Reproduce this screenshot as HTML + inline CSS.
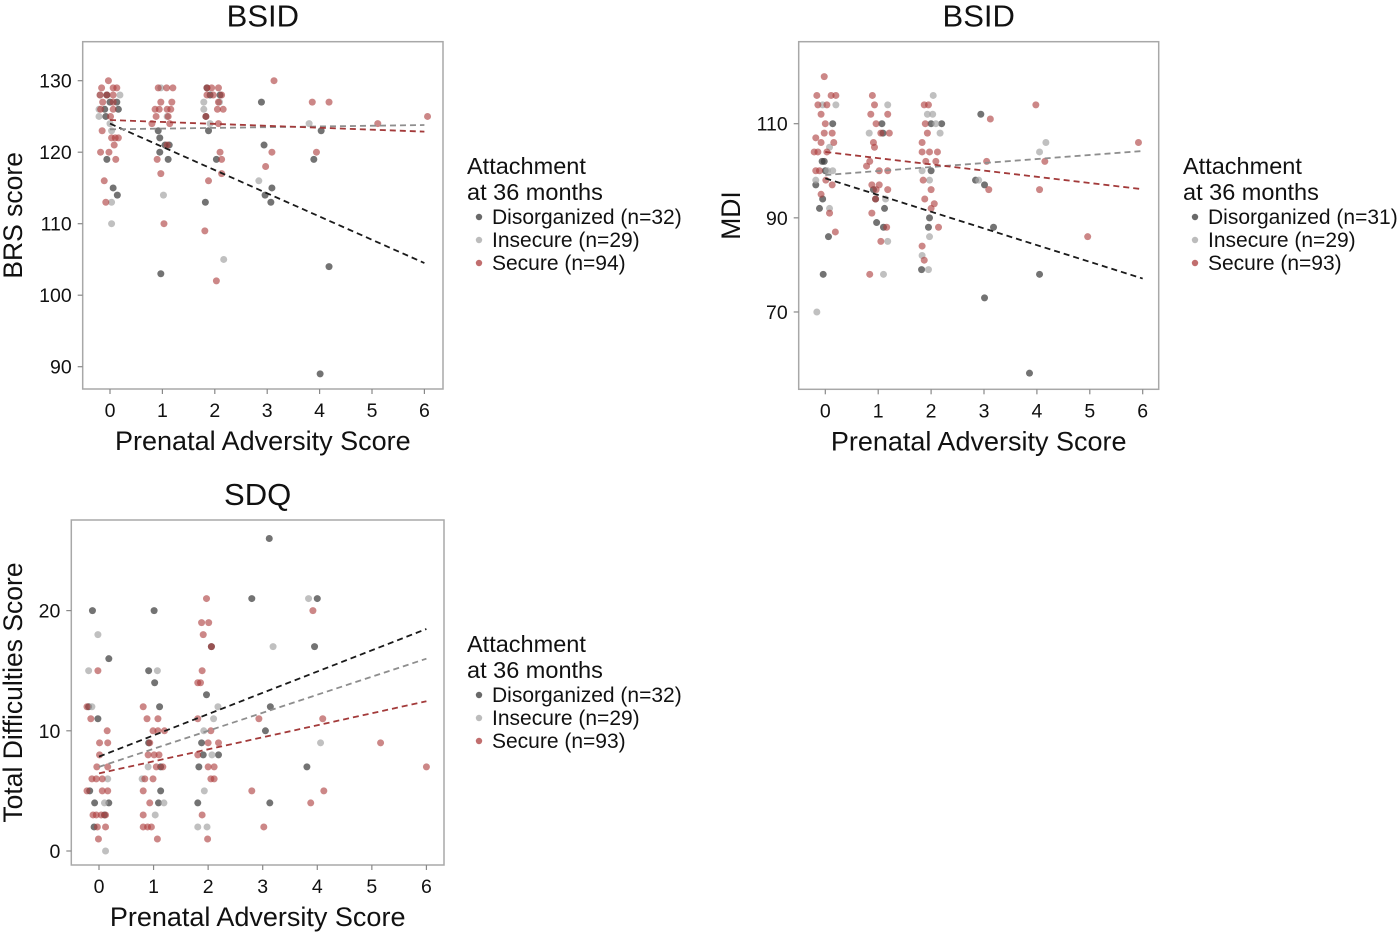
<!DOCTYPE html>
<html><head><meta charset="utf-8"><style>
html,body{margin:0;padding:0;background:#fff;}
svg{display:block;font-family:"Liberation Sans",sans-serif;}
</style></head><body>
<svg id="chart" width="1400" height="935" viewBox="0 0 1400 935"></svg>
<script>
// ---------- DATA ----------
const xTicks = [0,1,2,3,4,5,6];
const groups = ["Disorganized","Insecure","Secure"];
// Panel 1: BSID BRS score
const p1YTicks = [90,100,110,120,130];
const p1Legend = ["Disorganized (n=32)","Insecure (n=29)","Secure (n=94)"];
const p1Secure = [[-0.16,129],[-0.03,130],[0.06,129],[0.13,129],[-0.19,128],[-0.06,128],[0.06,128],[-0.14,127],[0.06,127],[-0.18,126],[0.06,126],[-0.15,123],[0.03,122],[0.1,122],[0.16,122],[0.08,121],[-0.18,120],[-0.02,120],[0.11,119],[-0.11,116],[-0.08,113],[0.01,125],
[0.92,129],[1.08,129],[1.2,129],[0.97,127],[1.18,127],[0.86,126],[0.94,126],[1.09,126],[1.16,126],[0.88,125],[1.11,125],[0.8,124],[1.14,124],[0.9,119],[0.97,117],[1.03,110],[1.09,121],
[1.85,129],[1.94,129],[2.07,129],[1.85,128],[1.97,128],[2.13,128],[2.07,127],[2.05,126],[2.16,126],[1.83,125],[2.07,124],[2.1,120],[2.13,119],[2.13,117],[1.88,116],[1.81,109],[2.03,102],
[3.13,130],[3.09,120],[2.97,118],[3.86,127],[4.18,127],[3.94,120],[5.11,124],[6.06,125]];
const p1Disorg = [[-0.06,128],[0,127],[0.13,127],[-0.1,126],[0.16,126],[-0.08,125],[-0.06,119],[0.06,115],[0.14,114],[0.92,123],[0.95,122],[1.05,121],[1.13,121],[0.95,120],[1.11,119],[0.97,103],[1.85,129],[1.91,128],[2.1,128],[1.83,125],[1.88,123],[2.03,119],[1.82,113],[2.89,127],[2.94,121],[3.09,115],[2.96,114],[3.07,113],[4.03,123],[3.89,119],[4.18,104],[4.01,89]];
const p1Insec = [[-0.19,128],[0.19,128],[-0.21,126],[-0.21,125],[0,124],[0.03,123],[0.03,113],[0.03,110],[0.97,129],[1.09,125],[1.02,114],[1.79,127],[1.79,126],[1.91,124],[2.09,127],[2.17,105],[2.84,116],[3.8,124]];
const p1Intercepts = [124.0,123.2,124.5];
const p1Slopes = [-3.25,0.1,-0.27];
// Panel 2: BSID MDI
const p2YTicks = [70,90,110];
const p2Legend = ["Disorganized (n=31)","Insecure (n=29)","Secure (n=93)"];
const p2Secure = [[-0.02,120],[-0.16,116],[0.11,116],[0.2,116],[-0.14,114],[0.03,114],[-0.08,112],[0,110],[-0.02,108],[0.13,108],[-0.18,107],[-0.08,106],[0.16,106],[-0.21,104],[-0.14,104],[0.03,104],[-0.18,100],[-0.11,100],[0.01,98],[0.13,97],[-0.08,95],[0.08,91],[0.19,87],
[0.89,116],[0.93,114],[0.86,112],[0.96,110],[1.18,112],[1.05,108],[1.21,108],[0.91,106],[0.93,105],[0.84,102],[0.78,101],[1.02,100],[1.18,100],[0.88,97],[1.02,97],[0.96,96],[1.18,96],[0.95,94],[0.88,91],[1.16,88],[1.05,85],[0.84,78],
[1.87,114],[1.95,114],[1.89,110],[1.93,108],[1.83,106],[1.83,104],[1.97,104],[2.12,104],[1.9,102],[2.09,102],[1.85,98],[2.0,96],[1.88,94],[2.06,93],[2.0,92],[2.14,88],[1.83,84],[1.87,81],
[3.12,111],[3.05,102],[3.09,96],[3.98,114],[4.15,102],[4.05,96],[4.96,86],[5.92,106]];
const p2Disorg = [[-0.06,102],[-0.02,102],[0.14,110],[0,100],[-0.18,97],[-0.05,94],[-0.11,92],[0.06,86],[-0.04,78],[1.07,110],[1.09,108],[0.91,96],[0.95,94],[0.97,89],[1.12,92],[1.1,88],[2.0,110],[2.2,110],[2.0,100],[1.97,90],[1.95,88],[1.82,79],[2.94,112],[2.84,98],[3.01,97],[3.18,88],[3.01,73],[4.05,78],[3.86,57]];
const p2Insec = [[-0.05,114],[0.2,114],[0.08,105],[0.04,100],[0.14,100],[-0.18,98],[0.08,92],[-0.16,70],[1.18,114],[0.83,108],[1.14,94],[1.18,85],[1.1,78],[2.04,116],[1.93,112],[2.03,112],[2.09,110],[2.17,108],[1.83,100],[1.97,98],[1.97,86],[1.83,82],[1.95,79],[2.9,98],[4.17,106],[4.05,104]];
const p2Intercepts = [98.4,99.1,104.0];
const p2Slopes = [-3.55,0.85,-1.32];
// Panel 3: SDQ total difficulties
const p3YTicks = [0,10,20];
const p3Legend = ["Disorganized (n=32)","Insecure (n=29)","Secure (n=93)"];
const p3Secure = [[-0.02,15],[-0.22,12],[-0.15,11],[0.15,10],[0.01,9],[0.16,9],[0.01,8],[-0.04,7],[0.16,7],[-0.13,6],[-0.05,6],[0.06,6],[-0.22,5],[0.06,5],[0.16,5],[-0.11,3],[-0.05,3],[0.04,3],[0.12,3],[-0.03,2],[0.12,2],[-0.01,1],
[0.81,12],[0.88,11],[1.08,11],[0.99,10],[1.08,10],[1.2,10],[0.93,9],[0.9,8],[1.01,8],[1.1,8],[1.05,7],[1.17,7],[0.84,6],[0.99,6],[0.81,5],[0.93,4],[0.81,3],[0.81,2],[0.89,2],[0.96,2],[1.07,1],
[1.97,21],[1.88,19],[2.01,19],[1.91,18],[2.06,17],[1.89,15],[1.81,14],[1.86,14],[1.81,11],[2.05,10],[2.0,9],[2.19,9],[1.81,8],[2.0,7],[2.11,7],[2.05,6],[2.11,6],[1.89,3],[1.99,1],
[2.93,11],[2.8,5],[3.02,2],[3.92,20],[4.1,11],[4.12,5],[3.88,4],[5.16,9],[6.0,7]];
const p3Disorg = [[-0.12,20],[0.18,16],[-0.19,12],[-0.02,11],[-0.17,5],[-0.08,4],[0.18,4],[-0.09,2],[0.1,3],[1.01,20],[0.91,15],[1.02,14],[1.11,12],[0.91,9],[1.13,7],[1.13,5],[1.09,4],[2.06,17],[1.97,13],[1.88,9],[1.91,8],[2.19,8],[1.83,7],[1.81,4],[3.12,26],[2.8,21],[3.14,12],[3.05,10],[3.13,4],[4.0,21],[3.95,17],[3.81,7]];
const p3Insec = [[-0.02,18],[-0.19,15],[-0.13,12],[0.1,4],[0.16,6],[0.12,0],[1.07,15],[0.9,7],[0.79,6],[1.19,4],[1.03,3],[2.18,12],[2.1,11],[1.92,10],[2.07,8],[1.93,5],[1.81,2],[1.98,2],[3.19,17],[3.84,21],[4.06,9]];
const p3Intercepts = [7.85,7.0,6.46];
const p3Slopes = [1.77,1.5,1.0];

// ---------- DRAW ----------
const NS = "http://www.w3.org/2000/svg";
const svg = document.getElementById("chart");
const fills = {Disorganized:"rgb(55,55,55)", Insecure:"rgb(165,165,165)", Secure:"rgb(172,62,62)"};
const lineCols = {Disorganized:"#1a1a1a", Insecure:"#8e8e8e", Secure:"#a33a3a"};
function mk(tag, attrs, parent){const e=document.createElementNS(NS,tag);for(const k in attrs)e.setAttribute(k,attrs[k]);(parent||svg).appendChild(e);return e;}
function txt(s, attrs, parent){const t=mk("text",attrs,parent);t.textContent=s;return t;}

function panel(cfg){
  const g = mk("g",{});
  
  
  const sx = v => cfg.x0 + v*cfg.xu;
  const sy = v => cfg.yRef + (cfg.yRefVal - v)*cfg.yu;
  const box = mk("rect",{x:cfg.L,y:cfg.T,width:cfg.R-cfg.L,height:cfg.B-cfg.T,fill:"none",stroke:"#a8a8a8","stroke-width":1.5},g);
  
  
  xTicks.forEach(v=>{
    const tk = mk("line",{x1:sx(v),x2:sx(v),y1:cfg.B,y2:cfg.B+5,stroke:"#888","stroke-width":1.2},g);
    
    
    const lb = txt(String(v),{x:sx(v),y:cfg.B+28,"text-anchor":"middle","font-size":19.5,fill:"#111"},g);
    
    
  });
  cfg.yTicks.forEach(v=>{
    const tk = mk("line",{x1:cfg.L-5,x2:cfg.L,y1:sy(v),y2:sy(v),stroke:"#888","stroke-width":1.2},g);
    
    
    const lb = txt(String(v),{x:cfg.L-11,y:sy(v)+7,"text-anchor":"end","font-size":19.5,fill:"#111"},g);
    
    
  });
  const sets = [["Disorganized",cfg.dis],["Insecure",cfg.ins],["Secure",cfg.sec]];
  sets.forEach(([name,pts])=>{
    pts.forEach(p=>{
      const c = mk("circle",{cx:sx(p[0]),cy:sy(p[1]),r:3.5,fill:fills[name],"fill-opacity":name==="Secure"?0.62:0.7},g);
      
      
    });
  });
  groups.forEach((name,i)=>{
    const a=cfg.ints[i], b=cfg.slopes[i];
    const l = mk("line",{x1:sx(0),y1:sy(a),x2:sx(6),y2:sy(a+6*b),stroke:lineCols[name],"stroke-width":1.8,"stroke-dasharray":"6,4"},g);
    
    
  });
  const t = txt(cfg.title,{x:(cfg.L+cfg.R)/2,y:cfg.T-15,"text-anchor":"middle","font-size":31,fill:"#111"},g);
  
  
  const xt = txt("Prenatal Adversity Score",{x:(cfg.L+cfg.R)/2,y:cfg.B+61,"text-anchor":"middle","font-size":27,fill:"#111"},g);
  
  
  const yc=(cfg.T+cfg.B)/2;
  const yt = txt(cfg.ytitle,{x:cfg.ytx,y:yc,"text-anchor":"middle","font-size":26.5,fill:"#111",transform:`rotate(-90 ${cfg.ytx} ${yc})`},g);
  
  
  const lg = mk("g",{},g);
  
  
  const h1 = txt("Attachment",{x:cfg.lx,y:cfg.ly,"font-size":23.5,fill:"#111"},lg);
  
  
  const h2 = txt("at 36 months",{x:cfg.lx,y:cfg.ly+26,"font-size":23.5,fill:"#111"},lg);
  
  
  cfg.legend.forEach((s,i)=>{
    const yy = cfg.ly+50+i*23;
    const d = mk("circle",{cx:cfg.lx+12,cy:yy-7,r:3.2,fill:fills[groups[i]],"fill-opacity":0.75},lg);
    
    
    const tx = txt(s,{x:cfg.lx+25,y:yy,"font-size":21,fill:"#111"},lg);
    
    
  });
}

panel({name:"panel-bsid-brs",title:"BSID",ytitle:"BRS score",L:82.7,R:443,T:41.7,B:389,x0:110,xu:52.4,yRef:80.7,yRefVal:130,yu:7.15,
  yTicks:p1YTicks,sec:p1Secure,dis:p1Disorg,ins:p1Insec,ints:p1Intercepts,slopes:p1Slopes,legend:p1Legend,lx:467,ly:174,ytx:22});
panel({name:"panel-bsid-mdi",title:"BSID",ytitle:"MDI",L:798.7,R:1158.7,T:41.7,B:389.3,x0:825.3,xu:52.9,yRef:123.7,yRefVal:110,yu:4.707,
  yTicks:p2YTicks,sec:p2Secure,dis:p2Disorg,ins:p2Insec,ints:p2Intercepts,slopes:p2Slopes,legend:p2Legend,lx:1183,ly:174,ytx:740});
panel({name:"panel-sdq",title:"SDQ",ytitle:"Total Difficulties Score",L:71.3,R:444,T:520,B:865,x0:99,xu:54.57,yRef:851,yRefVal:0,yu:12.02,
  yTicks:p3YTicks,sec:p3Secure,dis:p3Disorg,ins:p3Insec,ints:p3Intercepts,slopes:p3Slopes,legend:p3Legend,lx:467,ly:652,ytx:22});
</script>
</body></html>
